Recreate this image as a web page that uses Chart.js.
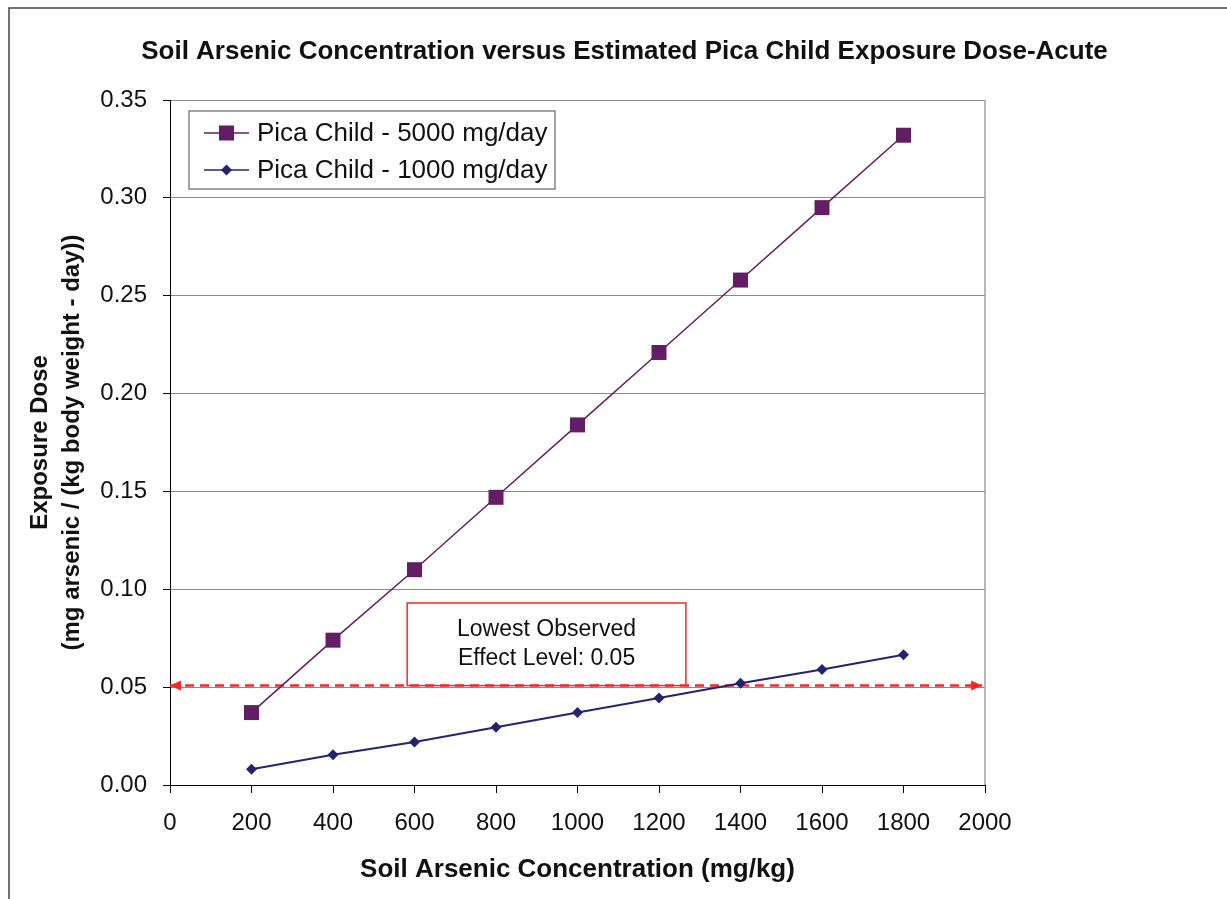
<!DOCTYPE html>
<html>
<head>
<meta charset="utf-8">
<script src="https://cdn.jsdelivr.net/npm/chart.js@4.4.0/dist/chart.umd.min.js"></script>
<style>
  html, body { margin: 0; padding: 0; background: #fff; }
  canvas { display: block; }
</style>
</head>
<body>
<canvas id="chart" width="1227" height="899"></canvas>
<script>
// values
const soilConc = [200, 400, 600, 800, 1000, 1200, 1400, 1600, 1800];
const dose5000 = [0.037, 0.074, 0.110, 0.147, 0.184, 0.221, 0.258, 0.295, 0.332];
const dose1000 = [0.008, 0.0155, 0.022, 0.0295, 0.037, 0.0445, 0.052, 0.059, 0.0665];
const seriesNames = ["Pica Child - 5000 mg/day", "Pica Child - 1000 mg/day"];
const loelValue = 0.0508;
const loelSpan = [0, 1993];
const loelText = ["Lowest Observed", "Effect Level: 0.05"];

const FONT = "'Liberation Sans', Arial, Helvetica, sans-serif";
const PURPLE = "#631d64";
const NAVY = "#232372";
const RED = "#ff2424";

const frame = {
  id: "frame",
  beforeDatasetsDraw(chart) {
    const { ctx, chartArea: a, scales } = chart;
    // LOEL note box
    const x0 = scales.x.getPixelForValue(582);
    const x1 = scales.x.getPixelForValue(1266);
    const y0 = scales.y.getPixelForValue(0.093);
    const y1 = scales.y.getPixelForValue(loelValue);
    ctx.save();
    ctx.fillStyle = "#fff";
    ctx.fillRect(x0, y0, x1 - x0, y1 - y0);
    ctx.strokeStyle = RED;
    ctx.lineWidth = 1.5;
    ctx.strokeRect(x0, y0, x1 - x0, y1 - y0);
    ctx.fillStyle = "#111";
    ctx.font = "23px " + FONT;
    ctx.textAlign = "center";
    ctx.textBaseline = "middle";
    const cx = (x0 + x1) / 2;
    ctx.fillText(loelText[0], cx, y0 + 27);
    ctx.fillText(loelText[1], cx, y0 + 56);
    // right border of plot
    ctx.strokeStyle = "#a0a0a0";
    ctx.lineWidth = 1.5;
    ctx.beginPath();
    ctx.moveTo(a.right, a.top);
    ctx.lineTo(a.right, a.bottom);
    ctx.stroke();
    ctx.restore();
  },
  afterDatasetsDraw(chart) {
    const { ctx } = chart;
    // arrow heads on the LOEL line
    const pts = chart.getDatasetMeta(2).data;
    const p0 = pts[0], p1 = pts[pts.length - 1];
    ctx.save();
    ctx.fillStyle = RED;
    ctx.beginPath();
    ctx.moveTo(p0.x, p0.y);
    ctx.lineTo(p0.x + 11, p0.y - 5);
    ctx.lineTo(p0.x + 11, p0.y + 5);
    ctx.closePath();
    ctx.fill();
    ctx.beginPath();
    ctx.moveTo(p1.x, p1.y);
    ctx.lineTo(p1.x - 11, p1.y - 5);
    ctx.lineTo(p1.x - 11, p1.y + 5);
    ctx.closePath();
    ctx.fill();

    // legend box
    const a = chart.chartArea;
    const bx = a.left + 19, by = a.top + 11, bw = 366, bh = 78;
    ctx.fillStyle = "#fff";
    ctx.fillRect(bx, by, bw, bh);
    ctx.strokeStyle = "#666";
    ctx.lineWidth = 1.2;
    ctx.strokeRect(bx, by, bw, bh);
    const rows = [by + 22, by + 59];
    const colors = [PURPLE, NAVY];
    ctx.font = "26px " + FONT;
    ctx.textBaseline = "middle";
    ctx.textAlign = "left";
    rows.forEach((ry, i) => {
      ctx.strokeStyle = colors[i];
      ctx.lineWidth = 1.5;
      ctx.beginPath();
      ctx.moveTo(bx + 15, ry);
      ctx.lineTo(bx + 60, ry);
      ctx.stroke();
      ctx.fillStyle = colors[i];
      const mx = bx + 37.5;
      if (i === 0) {
        ctx.fillRect(mx - 7.5, ry - 7.5, 15, 15);
      } else {
        ctx.beginPath();
        ctx.moveTo(mx - 5.5, ry);
        ctx.lineTo(mx, ry - 5.5);
        ctx.lineTo(mx + 5.5, ry);
        ctx.lineTo(mx, ry + 5.5);
        ctx.closePath();
        ctx.fill();
      }
      ctx.fillStyle = "#111";
      ctx.fillText(seriesNames[i], bx + 68, ry + 1);
    });
    ctx.restore();
  },
  afterDraw(chart) {
    const { ctx } = chart;
    ctx.save();
    ctx.strokeStyle = "#444";
    ctx.lineWidth = 1.5;
    ctx.beginPath();
    ctx.moveTo(9, 899);
    ctx.lineTo(9, 8);
    ctx.lineTo(1227, 8);
    ctx.stroke();
    ctx.restore();
  }
};

new Chart(document.getElementById("chart"), {
  type: "line",
  data: {
    datasets: [
      {
        label: seriesNames[0],
        data: soilConc.map((x, i) => ({ x, y: dose5000[i] })),
        borderColor: PURPLE,
        backgroundColor: PURPLE,
        borderWidth: 1.5,
        pointStyle: "rect",
        pointRadius: 10.6,
        pointBorderWidth: 0,
        tension: 0
      },
      {
        label: seriesNames[1],
        data: soilConc.map((x, i) => ({ x, y: dose1000[i] })),
        borderColor: NAVY,
        backgroundColor: NAVY,
        borderWidth: 2,
        pointStyle: "rectRot",
        pointRadius: 5.5,
        pointBorderWidth: 0,
        tension: 0
      },
      {
        label: "LOEL",
        data: loelSpan.map(x => ({ x, y: loelValue })),
        borderColor: RED,
        borderWidth: 2.5,
        borderDash: [9, 6],
        pointRadius: 0
      }
    ]
  },
  options: {
    responsive: false,
    devicePixelRatio: 1,
    animation: false,
    layout: { padding: { left: 22, right: 0, top: 0, bottom: 0 } },
    plugins: {
      legend: { display: false },
      tooltip: { enabled: false },
      title: {
        display: true,
        text: "Soil Arsenic Concentration versus Estimated Pica Child Exposure Dose-Acute",
        color: "#111",
        font: { family: FONT, size: 26, weight: "bold" },
        padding: { top: 36.5, bottom: 32.3 }
      }
    },
    scales: {
      x: {
        type: "linear",
        min: 0,
        max: 2000,
        afterFit: s => { s.height = 114; },
        ticks: {
          stepSize: 200,
          color: "#111",
          font: { family: FONT, size: 24 },
          padding: 16,
          maxRotation: 0,
          callback: v => String(v)
        },
        grid: { drawOnChartArea: false, tickLength: 8, tickColor: "#000" },
        border: { color: "#000", width: 1 },
        title: {
          display: true,
          text: "Soil Arsenic Concentration (mg/kg)",
          color: "#111",
          font: { family: FONT, size: 26, weight: "bold" },
          padding: { top: 0, bottom: 14 }
        }
      },
      y: {
        min: 0,
        max: 0.35,
        afterFit: s => { s.width = 148; },
        ticks: {
          stepSize: 0.05,
          color: "#111",
          font: { family: FONT, size: 24 },
          padding: 16,
          callback: v => v.toFixed(2)
        },
        grid: { color: "#8a8a8a", lineWidth: 1, tickLength: 7, tickColor: "#000" },
        border: { color: "#000", width: 1 },
        title: {
          display: true,
          text: ["Exposure Dose", "(mg arsenic / (kg body weight - day))"],
          color: "#111",
          font: { family: FONT, size: 24, weight: "bold", lineHeight: 1.333 },
          padding: { top: 2, bottom: 0 }
        }
      },
      spacer: {
        position: "right",
        min: 0,
        max: 1,
        afterFit: s => { s.width = 242; },
        ticks: { display: false },
        grid: { display: false },
        border: { display: false }
      }
    }
  },
  plugins: [frame]
});
</script>
</body>
</html>
